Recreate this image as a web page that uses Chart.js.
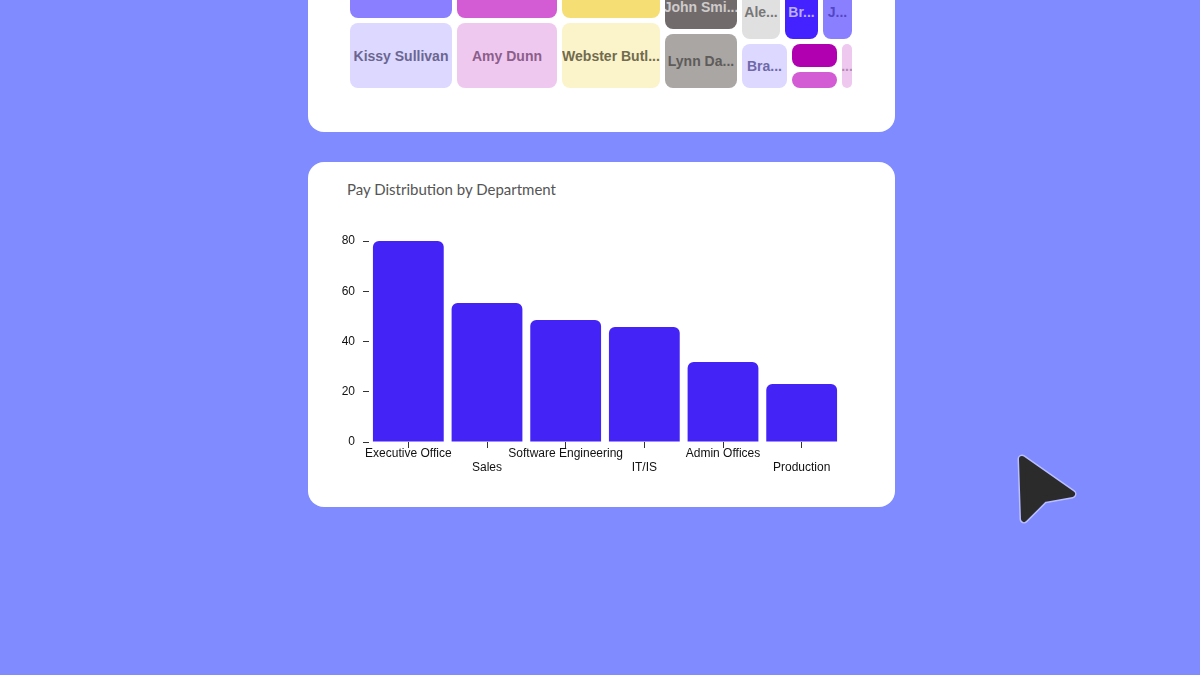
<!DOCTYPE html>
<html>
<head>
<meta charset="utf-8">
<title>Pay Distribution by Department</title>
<script src="https://cdn.jsdelivr.net/npm/chart.js@4.4.1/dist/chart.umd.min.js"></script>
<style>
  html, body { margin: 0; padding: 0; }
  body {
    width: 1200px; height: 675px; overflow: hidden; position: relative;
    background: #7F8BFF;
    font-family: 'Liberation Sans', Arial, sans-serif;
  }
  .card { position: absolute; left: 308px; width: 587px; background: #fff; border-radius: 16px; }
  #cardTop { top: -60px; height: 192px; }
  #cardBar { top: 162px; height: 345px; }
  #tree { position: absolute; left: 42px; top: 45px; width: 502px; height: 103px; }
  .box { display: flex; gap: 5px; min-width: 0; min-height: 0; flex-basis: 0; }
  .cell {
    flex-basis: 0; min-width: 0; min-height: 0; border-radius: 8px; overflow: hidden;
    display: flex; align-items: center; justify-content: center;
    font-weight: bold; font-size: 14px; white-space: nowrap;
  }
  #title {
    position: absolute; left: 39px; top: 18px;
    font-family: Lato, sans-serif; font-size: 15px; color: #555;
  }
  #wrap { position: absolute; left: 22px; top: 63px; width: 520px; height: 260px; }
  #cursor { position: absolute; left: 0; top: 0; pointer-events: none; }
</style>
</head>
<body>

<div class="card" id="cardTop">
  <div id="tree" class="box"></div>
</div>

<div class="card" id="cardBar">
  <div id="title">Pay Distribution by Department</div>
  <div id="wrap"><canvas id="grafico" width="520" height="260"></canvas></div>
</div>

<svg id="cursor" width="1200" height="675">
  <polygon points="1022,459 1072,494 1044,499 1024,519" fill="#2B2B2B" stroke="#B9BEFF" stroke-width="9" stroke-linejoin="round"/>
  <polygon points="1022,459 1072,494 1044,499 1024,519" fill="#2B2B2B" stroke="#2B2B2B" stroke-width="6" stroke-linejoin="round"/>
</svg>

<script>
// bar chart data
const departamentos = ['Executive Office', 'Sales', 'Software Engineering', 'IT/IS', 'Admin Offices', 'Production'];
const pagamentos = [80, 55.3, 48.6, 45.8, 31.8, 23.1];
const ticksY = [0, 20, 40, 60, 80];

// treemap (top card, only the bottom part is on screen)
const pessoas = ['', 'Kissy Sullivan', '', 'Amy Dunn', '', 'Webster Butl...', 'John Smi...', 'Lynn Da...',
  'Ale...', 'Br...', 'J...', 'Bra...', '', '', '...'];
const pesos = [33, 65, 33, 65, 33, 65, 44, 54, 38, 33, 29, 45, 23, 16, 10];
const coresCelula = ['#8A80FF', '#DCD8FF', '#D35BD3', '#EFC8EF', '#F5DF74', '#FBF3C9', '#716C6B', '#A9A6A4',
  '#E1E0E0', '#4422FF', '#8A80FF', '#DCD8FF', '#B000B0', '#D35BD3', '#EFC8EF'];
const coresTexto = ['#fff', '#6B6690', '#fff', '#8B5E8B', '#fff', '#716B4F', '#CFCBCB', '#5E5B59',
  '#777', '#B9B0FF', '#5246C8', '#6F68A8', '#fff', '#fff', '#B28AB2'];
// grouping: [direction, weight, children] where a number is an index into the arrays above
const arvore = ['row', 1, [
  ['col', 102, [0, 1]],
  ['col', 100, [2, 3]],
  ['col', 98, [4, 5]],
  ['col', 72, [6, 7]],
  ['col', 110, [
    ['row', 54, [8, 9, 10]],
    ['row', 44, [11, ['col', 45, [12, 13]], 14]]
  ]]
]];

function montar(no, parent, dir) {
  if (typeof no === 'number') {
    const c = document.createElement('div');
    c.className = 'cell';
    c.style.flexGrow = pesos[no];
    c.style.background = coresCelula[no];
    c.style.color = coresTexto[no];
    c.textContent = pessoas[no];
    parent.appendChild(c);
    return;
  }
  const [d, w, filhos] = no;
  let el = parent;
  if (dir) {
    el = document.createElement('div');
    el.className = 'box';
    el.style.flexGrow = w;
    parent.appendChild(el);
  }
  el.style.flexDirection = d === 'row' ? 'row' : 'column';
  filhos.forEach(f => montar(f, el, d));
}
montar(arvore, document.getElementById('tree'), null);

const fonteEixo = { family: "'Liberation Sans', Arial, sans-serif", size: 12 };

new Chart(document.getElementById('grafico'), {
  type: 'bar',
  data: {
    labels: departamentos,
    datasets: [{
      label: 'Pay',
      data: pagamentos,
      backgroundColor: '#4423F7',
      borderRadius: { topLeft: 6, topRight: 6, bottomLeft: 0, bottomRight: 0 },
      borderSkipped: false,
      barPercentage: 0.9,
      categoryPercentage: 1
    }]
  },
  options: {
    responsive: false,
    animation: false,
    layout: { padding: { top: 16, right: 9, left: 0, bottom: 0 } },
    plugins: { legend: { display: false }, tooltip: { enabled: false } },
    scales: {
      x: {
        grid: { drawOnChartArea: false, offset: false, tickLength: 6, color: '#333' },
        border: { display: false },
        ticks: {
          autoSkip: false, maxRotation: 0, minRotation: 0, padding: -2,
          color: '#111', font: fonteEixo,
          callback: function (v, i) {
            const l = this.getLabelForValue(v);
            return i % 2 ? ['', l] : l;
          }
        },
        afterFit: s => { s.height = 43; }
      },
      y: {
        min: 0, max: 80,
        afterBuildTicks: s => { s.ticks = ticksY.map(v => ({ value: v })); },
        grid: { drawOnChartArea: false, tickLength: 6, color: '#333' },
        border: { display: false },
        ticks: { padding: 8, color: '#111', font: fonteEixo },
        afterFit: s => { s.width = 39; }
      }
    }
  }
});
</script>
</body>
</html>
